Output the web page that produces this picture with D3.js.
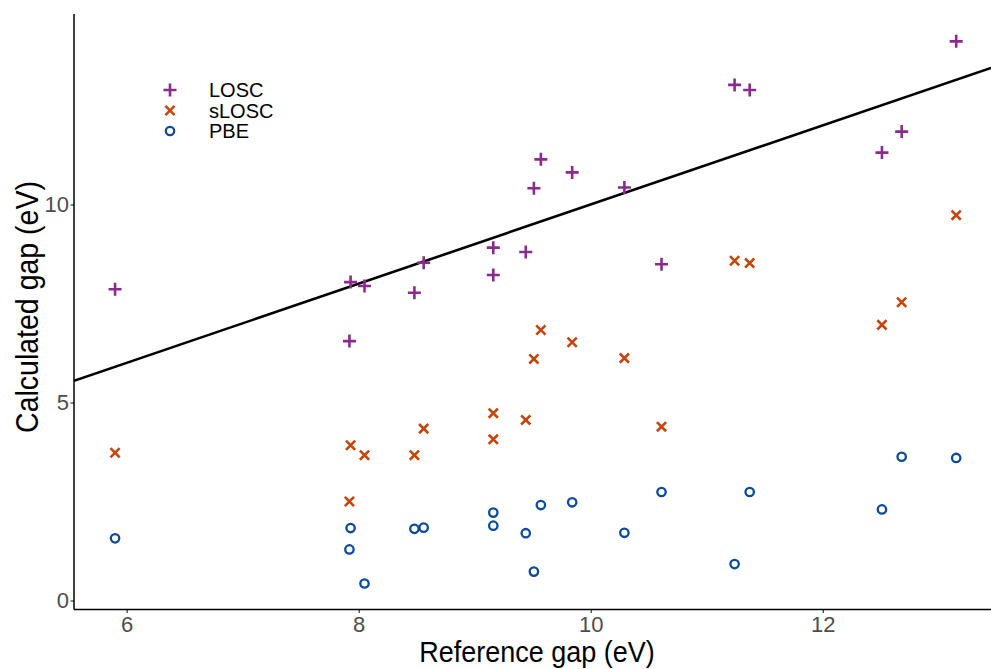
<!DOCTYPE html>
<html>
<head>
<meta charset="utf-8">
<script src="https://cdn.jsdelivr.net/npm/d3@7"></script>
<style>
  html, body { margin: 0; padding: 0; background: #fff; }
  svg { display: block; font-family: "Liberation Sans", Arial, sans-serif; }
</style>
</head>
<body>
<svg id="chart" width="991" height="669"></svg>
<script>
// ---- Data ----
const referenceGap = [5.90, 7.93, 7.92, 8.05, 8.48, 8.56, 9.16, 9.16, 9.44, 9.51, 9.57, 9.84, 10.29, 10.61, 11.24, 11.37, 12.51, 12.68, 13.15];
const loscGap      = [7.86, 8.04, 6.55, 7.94, 7.77, 8.53, 8.91, 8.22, 8.80, 10.41, 11.14, 10.81, 10.43, 8.49, 13.02, 12.89, 11.31, 11.84, 14.12];
const slosGap      = [3.73, 3.92, 2.50, 3.67, 3.67, 4.34, 4.73, 4.07, 4.56, 6.10, 6.83, 6.52, 6.12, 4.39, 8.58, 8.52, 6.96, 7.53, 9.73];
const pbeGap       = [1.57, 1.83, 1.29, 0.43, 1.81, 1.84, 2.22, 1.89, 1.70, 0.73, 2.41, 2.48, 1.71, 2.74, 0.92, 2.74, 2.30, 3.63, 3.60];
const seriesNames  = ["LOSC", "sLOSC", "PBE"];
const xTicks = [6, 8, 10, 12];
const yTicks = [0, 5, 10];
const xTitle = "Reference gap (eV)";
const yTitle = "Calculated gap (eV)";

const colors = { "LOSC": "#8a2a8c", "sLOSC": "#c4460c", "PBE": "#0d4a98" };
const shapes = { "LOSC": "plus", "sLOSC": "cross", "PBE": "circle" };

const svg = d3.select("#chart");
const pLeft = 74, pRight = 991, pTop = 14, pBottom = 609.5;

const x = d3.scaleLinear().domain([5.546, 13.45]).range([pLeft, pRight]);
const y = d3.scaleLinear().domain([-0.227, 14.81]).range([pBottom, pTop]);

svg.append("defs").append("clipPath").attr("id", "clip")
  .append("rect").attr("x", pLeft).attr("y", pTop).attr("width", pRight - pLeft).attr("height", pBottom - pTop);

// identity line y = x
const dom = x.domain();
svg.append("line")
  .attr("clip-path", "url(#clip)")
  .attr("x1", x(dom[0])).attr("y1", y(dom[0]))
  .attr("x2", x(dom[1])).attr("y2", y(dom[1]))
  .attr("stroke", "#000").attr("stroke-width", 2.6);

// axes
const xAxis = d3.axisBottom(x).tickValues(xTicks).tickSize(3.5).tickPadding(3).tickFormat(d3.format("d"));
const yAxis = d3.axisLeft(y).tickValues(yTicks).tickSize(3.5).tickPadding(1.5).tickFormat(d3.format("d"));

const gx = svg.append("g").attr("transform", `translate(0,${pBottom})`).call(xAxis);
const gy = svg.append("g").attr("transform", `translate(${pLeft},0)`).call(yAxis);
[gx, gy].forEach(g => {
  g.select(".domain").remove();
  g.selectAll(".tick line").attr("stroke", "#333").attr("stroke-width", 1.2);
  g.selectAll(".tick text").attr("fill", "#4d4d4d").attr("font-size", 22)
    .attr("font-family", "'Liberation Sans', Arial, sans-serif");
});
// axis lines
svg.append("line").attr("x1", pLeft).attr("x2", pLeft).attr("y1", pTop).attr("y2", pBottom)
  .attr("stroke", "#000").attr("stroke-width", 1.5);
svg.append("line").attr("x1", pLeft).attr("x2", pRight).attr("y1", pBottom).attr("y2", pBottom)
  .attr("stroke", "#000").attr("stroke-width", 1.5);

// axis titles (slightly condensed, as in the reference)
svg.append("text").attr("transform", `translate(537,662) scale(0.9,1)`)
  .attr("text-anchor", "middle").attr("font-size", 30).attr("fill", "#000").text(xTitle);
svg.append("text").attr("transform", `translate(38,307) rotate(-90) scale(0.92,1)`)
  .attr("text-anchor", "middle").attr("font-size", 31).attr("fill", "#000").text(yTitle);

// marker drawing
function marker(g, shape, color) {
  if (shape === "plus") {
    const s = 6.5;
    g.append("path").attr("d", `M${-s},0H${s}M0,${-s}V${s}`)
      .attr("stroke", color).attr("stroke-width", 2.6).attr("fill", "none");
  } else if (shape === "cross") {
    const s = 4.6;
    g.append("path").attr("d", `M${-s},${-s}L${s},${s}M${-s},${s}L${s},${-s}`)
      .attr("stroke", color).attr("stroke-width", 2.6).attr("fill", "none");
  } else {
    g.append("circle").attr("r", 4.2)
      .attr("stroke", color).attr("stroke-width", 2.3).attr("fill", "none");
  }
}

const seriesData = { "LOSC": loscGap, "sLOSC": slosGap, "PBE": pbeGap };
const plot = svg.append("g").attr("clip-path", "url(#clip)");
["PBE", "sLOSC", "LOSC"].forEach(name => {
  const vals = seriesData[name];
  referenceGap.forEach((rx, i) => {
    const g = plot.append("g").attr("transform", `translate(${x(rx)},${y(vals[i])})`);
    marker(g, shapes[name], colors[name]);
  });
});

// legend
const legend = svg.append("g");
seriesNames.forEach((name, i) => {
  const ly = 90 + i * 20.5;
  const g = legend.append("g").attr("transform", `translate(170,${ly})`);
  marker(g, shapes[name], colors[name]);
  legend.append("text").attr("x", 209).attr("y", ly).attr("dy", "0.36em")
    .attr("font-size", 20).attr("fill", "#000").text(name);
});
</script>
</body>
</html>
